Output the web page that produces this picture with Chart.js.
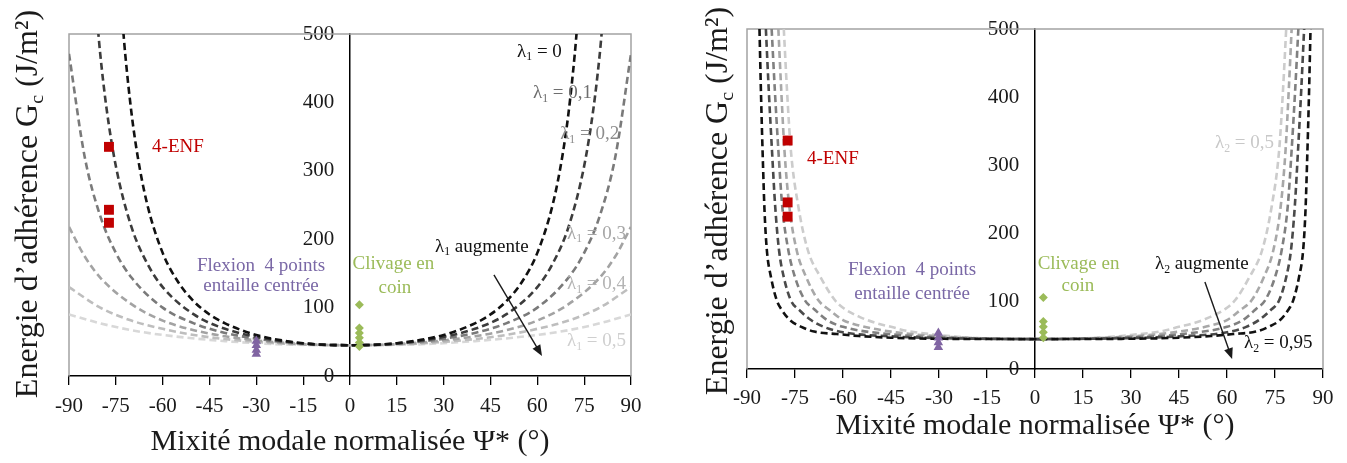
<!DOCTYPE html>
<html lang="fr">
<head>
<meta charset="UTF-8">
<title>Energie d'adhérence - mixité modale</title>
<script src="https://cdn.jsdelivr.net/npm/chart.js"></script>
<style>
  body { margin: 0; background: #fff; }
  .panel { position: absolute; top: 0; }
  #p1 { left: 0; }
  #p2 { left: 673px; }
</style>
</head>
<body>
<div class="panel" id="p1"><canvas id="chart1" width="673" height="463"></canvas></div>
<div class="panel" id="p2"><canvas id="chart2" width="674" height="463"></canvas></div>

<script>
// --- courbes lambda1 (graphe de gauche) ---
const psiL1_0 = [-72.6,-72,-70,-68,-65,-60,-55,-50,-45,-40,-30,-15,0,15,30,40,45,50,55,60,65,68,70,72,72.6];
const gcL1_0  = [503,471,385,321,252,180,137,109,90,77,60,48,45,48,60,77,90,109,137,180,252,321,385,471,503];
const psiL1_1 = [-80.7,-80,-78,-75,-70,-65,-60,-50,-40,-20,0,20,40,50,60,65,70,75,78,80,80.7];
const gcL1_1  = [506,471,392,307,218,165,130,90,69,50,45,50,69,90,130,165,218,307,392,471,506];
const psiL1_2 = [-90,-85,-80,-75,-70,-60,-50,-40,-20,0,20,40,50,60,70,75,80,85,90];
const gcL1_2  = [471,321,234,180,144,100,77,63,49,45,49,63,77,100,144,180,234,321,471];
const psiL1_3 = [-90,-85,-80,-70,-60,-50,-40,-20,0,20,40,50,60,70,80,85,90];
const gcL1_3  = [218,175,144,105,81,67,58,48,45,48,58,67,81,105,144,175,218];
const psiL1_4 = [-90,-80,-70,-60,-50,-40,-20,0,20,40,50,60,70,80,90];
const gcL1_4  = [130,100,81,69,60,54,47,45,47,54,60,69,81,100,130];
const psiL1_5 = [-90,-80,-70,-60,-40,-20,0,20,40,60,70,80,90];
const gcL1_5  = [90,77,67,60,51,46,45,46,51,60,67,77,90];

// --- courbes lambda2 (graphe de droite) ---
const psiL2_95 = [-86.1,-85.6,-85,-84.5,-83.8,-82.5,-80.7,-79,-76.6,-73,-69,-62,-55,-45,-30,0,30,45,55,62,69,73,76.6,79,80.7,82.5,83.8,84.5,85,85.6,86.1];
const gcL2_95  = [500,400,300,230,175,135,101,86,72,62,55,51.5,48.5,46,44.5,44,44.5,46,48.5,51.5,55,62,72,86,101,135,175,230,300,400,500];
const psiL2_9 = [-84.1,-83.2,-82.2,-81.2,-80,-78.5,-76.3,-73.5,-70,-66,-60,-45,-30,0,30,45,60,66,70,73.5,76.3,78.5,80,81.2,82.2,83.2,84.1];
const gcL2_9  = [500,410,322,240,175,135,101,86,72,62,54,48,45.5,44,45.5,48,54,62,72,86,101,135,175,240,322,410,500];
const psiL2_8 = [-82.3,-81.3,-80.2,-79,-77.1,-75,-71.9,-69,-65,-60,-45,-30,0,30,45,60,65,69,71.9,75,77.1,79,80.2,81.3,82.3];
const gcL2_8  = [500,410,322,240,175,135,101,88,72,62,51,46.5,44,46.5,51,62,72,88,101,135,175,240,322,410,500];
const psiL2_7 = [-80.2,-79.3,-78.3,-76.8,-74.5,-71.5,-67.7,-64,-60,-55,-45,-30,0,30,45,55,60,64,67.7,71.5,74.5,76.8,78.3,79.3,80.2];
const gcL2_7  = [500,410,322,240,175,135,101,86,72,64,55,48,44,48,55,64,72,86,101,135,175,240,322,410,500];
const psiL2_5 = [-78.5,-77.5,-76.3,-74,-71,-67,-62.5,-60,-55,-50,-45,-40,-30,-20,0,20,30,40,45,50,55,60,62.5,67,71,74,76.3,77.5,78.5];
const gcL2_5  = [500,410,322,240,175,135,101,90,77,68,62,56,50,46,44,46,50,56,62,68,77,90,101,135,175,240,322,410,500];

// --- points expérimentaux ---
const psiEnf1 = [-77.2,-77.2,-77.2];
const gcEnf1  = [335,243,224];
const psiFlex1 = [-30,-30,-30,-30];
const gcFlex1  = [51,45,38,32];
const psiCliv1 = [3,3,3,3,3,3];
const gcCliv1  = [104,70,63,56,49,43];

const psiEnf2 = [-77.3,-77.3,-77.3];
const gcEnf2  = [336,245,224];
const psiFlex2 = [-30.2,-30.2,-30.2,-30.2];
const gcFlex2  = [53,46,39,32];
const psiCliv2 = [2.6,2.6,2.6,2.6,2.6];
const gcCliv2  = [105,70,62,54,46];

const xTicksMin = -90, xTicksMax = 90, xStep = 15;
const yMin = 0, yMax = 500, yStep = 100;

const FAMILY = '"Liberation Serif", "DejaVu Serif", serif';
Chart.defaults.font.family = FAMILY;
Chart.defaults.color = '#1a1a1a';

function pts(xs, ys) { return xs.map((x, i) => ({ x: x, y: ys[i] })); }

function curve(xs, ys, color) {
  return {
    data: pts(xs, ys), borderColor: color, borderWidth: 2.6, borderDash: [7, 4],
    pointRadius: 0, cubicInterpolationMode: 'monotone', fill: false
  };
}
function marks(xs, ys, style, r, color) {
  return {
    data: pts(xs, ys), showLine: false, pointStyle: style, pointRadius: r,
    backgroundColor: color, borderColor: color, borderWidth: 0
  };
}

// texte avec indices
function drawRich(ctx, parts, x, y, align, size, color) {
  ctx.save();
  ctx.fillStyle = color;
  ctx.textBaseline = 'alphabetic';
  ctx.textAlign = 'left';
  let w = 0;
  parts.forEach(p => {
    ctx.font = (p[1] ? size * 0.62 : size) + 'px ' + FAMILY;
    w += ctx.measureText(p[0]).width;
  });
  let cx = align === 'center' ? x - w / 2 : (align === 'right' ? x - w : x);
  const base = y + size * 0.33;
  parts.forEach(p => {
    ctx.font = (p[1] ? size * 0.62 : size) + 'px ' + FAMILY;
    ctx.fillText(p[0], cx, base + (p[1] ? size * 0.2 : 0));
    cx += ctx.measureText(p[0]).width;
  });
  ctx.restore();
}

const decor = {
  id: 'decor',
  beforeDatasetsDraw(chart) {
    const a = chart.chartArea, ctx = chart.ctx;
    ctx.save();
    ctx.strokeStyle = '#a3a3a3';
    ctx.lineWidth = 1.5;
    ctx.beginPath();
    ctx.moveTo(a.left, a.bottom);
    ctx.lineTo(a.left, a.top);
    ctx.lineTo(a.right, a.top);
    ctx.lineTo(a.right, a.bottom);
    ctx.stroke();
    ctx.restore();
  },
  afterDraw(chart, args, opts) {
    const xs = chart.scales.x, ys = chart.scales.y, ctx = chart.ctx;
    (opts.notes || []).forEach(n => {
      drawRich(ctx, n.parts, xs.getPixelForValue(n.x), ys.getPixelForValue(n.y), n.align || 'left', n.size || 19, n.color);
    });
    (opts.arrows || []).forEach(ar => {
      const x1 = xs.getPixelForValue(ar[0]), y1 = ys.getPixelForValue(ar[1]);
      const x2 = xs.getPixelForValue(ar[2]), y2 = ys.getPixelForValue(ar[3]);
      const ang = Math.atan2(y2 - y1, x2 - x1);
      ctx.save();
      ctx.strokeStyle = '#1a1a1a';
      ctx.fillStyle = '#1a1a1a';
      ctx.lineWidth = 1.4;
      ctx.beginPath();
      ctx.moveTo(x1, y1);
      ctx.lineTo(x2 - 8 * Math.cos(ang), y2 - 8 * Math.sin(ang));
      ctx.stroke();
      ctx.beginPath();
      ctx.moveTo(x2, y2);
      ctx.lineTo(x2 - 11 * Math.cos(ang) + 4.5 * Math.sin(ang), y2 - 11 * Math.sin(ang) - 4.5 * Math.cos(ang));
      ctx.lineTo(x2 - 11 * Math.cos(ang) - 4.5 * Math.sin(ang), y2 - 11 * Math.sin(ang) + 4.5 * Math.cos(ang));
      ctx.closePath();
      ctx.fill();
      ctx.restore();
    });
    const t = opts.yTitle;
    ctx.save();
    ctx.translate(t.x, t.y);
    ctx.rotate(-Math.PI / 2);
    drawRich(ctx, t.parts, 0, 0, 'center', t.size, '#1a1a1a');
    ctx.restore();
  }
};

const yTitleParts = [['Energie d’adhérence G', 0], ['c', 1], [' (J/m²)', 0]];

function makeChart(id, datasets, cfg) {
  return new Chart(document.getElementById(id), {
    type: 'line',
    data: { datasets: datasets },
    options: {
      responsive: false,
      animation: false,
      events: [],
      layout: { padding: cfg.padding },
      plugins: { legend: { display: false }, tooltip: { enabled: false }, decor: cfg.decor },
      scales: {
        x: {
          type: 'linear', min: xTicksMin, max: xTicksMax, position: 'bottom',
          afterFit: s => { s.height = cfg.xHeight; },
          ticks: { stepSize: xStep, font: { size: 21 }, padding: cfg.xTickPad, color: '#1a1a1a', maxRotation: 0 },
          grid: { drawOnChartArea: false, drawTicks: true, tickLength: 9, color: '#000', lineWidth: 1.3 },
          border: { color: '#000', width: 1.5 },
          title: {
            display: true, text: 'Mixité modale normalisée Ψ* (°)', font: { size: 30 },
            color: '#1a1a1a', padding: { top: 0, bottom: cfg.titlePad }
          }
        },
        y: {
          type: 'linear', min: yMin, max: yMax, position: { x: 0 },
          // labels placed at the axis position: trailing spaces keep them off the line
          ticks: { stepSize: yStep, font: { size: 21 }, color: '#1a1a1a', callback: v => v + '   ' },
          grid: { display: false, drawTicks: false },
          border: { color: '#000', width: 1.5 }
        }
      }
    },
    plugins: [decor]
  });
}

const lam = (s) => [['λ', 0], ['1', 1], [s, 0]];
const lam2 = (s) => [['λ', 0], ['2', 1], [s, 0]];

makeChart('chart1', [
  marks(psiEnf1, gcEnf1, 'rect', 7, '#c00000'),
  marks(psiFlex1, gcFlex1, 'triangle', 5.5, '#8064a2'),
  marks(psiCliv1, gcCliv1, 'rectRot', 4.5, '#9bbb59'),
  curve(psiL1_0, gcL1_0, '#111111'),
  curve(psiL1_1, gcL1_1, '#3c3c3c'),
  curve(psiL1_2, gcL1_2, '#7a7a7a'),
  curve(psiL1_3, gcL1_3, '#a3a3a3'),
  curve(psiL1_4, gcL1_4, '#bebebe'),
  curve(psiL1_5, gcL1_5, '#d8d8d8')
], {
  padding: { left: 69, right: 42, top: 34, bottom: 0 },
  xHeight: 87, xTickPad: 9, titlePad: 3,
  decor: {
    yTitle: { parts: yTitleParts, x: 26, y: 204, size: 32 },
    notes: [
      { parts: lam(' = 0'), x: 53.5, y: 476, color: '#111111' },
      { parts: lam(' = 0,1'), x: 58.6, y: 415, color: '#6e6e6e' },
      { parts: lam(' = 0,2'), x: 67.3, y: 355, color: '#8c8c8c' },
      { parts: lam(' = 0,3'), x: 69.5, y: 210, color: '#a6a6a6' },
      { parts: lam(' = 0,4'), x: 69.5, y: 136, color: '#b4b4b4' },
      { parts: lam(' = 0,5'), x: 69.5, y: 53, color: '#cfcfcf' },
      { parts: lam(' augmente'), x: 27.2, y: 191, color: '#111111' },
      { parts: [['4-ENF', 0]], x: -63.4, y: 336, color: '#c00000' },
      { parts: [['Flexion  4 points', 0]], x: -28.5, y: 162, align: 'center', color: '#7a68a6' },
      { parts: [['entaille centrée', 0]], x: -28.5, y: 133, align: 'center', color: '#7a68a6' },
      { parts: [['Clivage en', 0]], x: 13.9, y: 165, align: 'center', color: '#9bbb59' },
      { parts: [['coin', 0]], x: 14.4, y: 130, align: 'center', color: '#9bbb59' }
    ],
    arrows: [[46.1, 147.7, 61.5, 29.2]]
  }
});

makeChart('chart2', [
  marks(psiEnf2, gcEnf2, 'rect', 7, '#c00000'),
  marks(psiFlex2, gcFlex2, 'triangle', 5.5, '#8064a2'),
  marks(psiCliv2, gcCliv2, 'rectRot', 4.5, '#9bbb59'),
  curve(psiL2_95, gcL2_95, '#111111'),
  curve(psiL2_9, gcL2_9, '#4a4a4a'),
  curve(psiL2_8, gcL2_8, '#808080'),
  curve(psiL2_7, gcL2_7, '#a8a8a8'),
  curve(psiL2_5, gcL2_5, '#cccccc')
], {
  padding: { left: 74, right: 24, top: 29, bottom: 0 },
  xHeight: 94, xTickPad: 8, titlePad: 19,
  decor: {
    yTitle: { parts: yTitleParts, x: 43, y: 201, size: 32 },
    notes: [
      { parts: lam2(' = 0,95'), x: 65.3, y: 40, color: '#111111' },
      { parts: lam2(' = 0,5'), x: 56.25, y: 334, color: '#c8c8c8' },
      { parts: lam2(' augmente'), x: 37.5, y: 156, color: '#111111' },
      { parts: [['4-ENF', 0]], x: -71.25, y: 310, color: '#c00000' },
      { parts: [['Flexion  4 points', 0]], x: -38.4, y: 147, align: 'center', color: '#7a68a6' },
      { parts: [['entaille centrée', 0]], x: -38.4, y: 112, align: 'center', color: '#7a68a6' },
      { parts: [['Clivage en', 0]], x: 13.6, y: 157, align: 'center', color: '#9bbb59' },
      { parts: [['coin', 0]], x: 13.4, y: 123.5, align: 'center', color: '#9bbb59' }
    ],
    arrows: [[53.1, 127.9, 61.6, 14.7]]
  }
});
</script>
</body>
</html>
